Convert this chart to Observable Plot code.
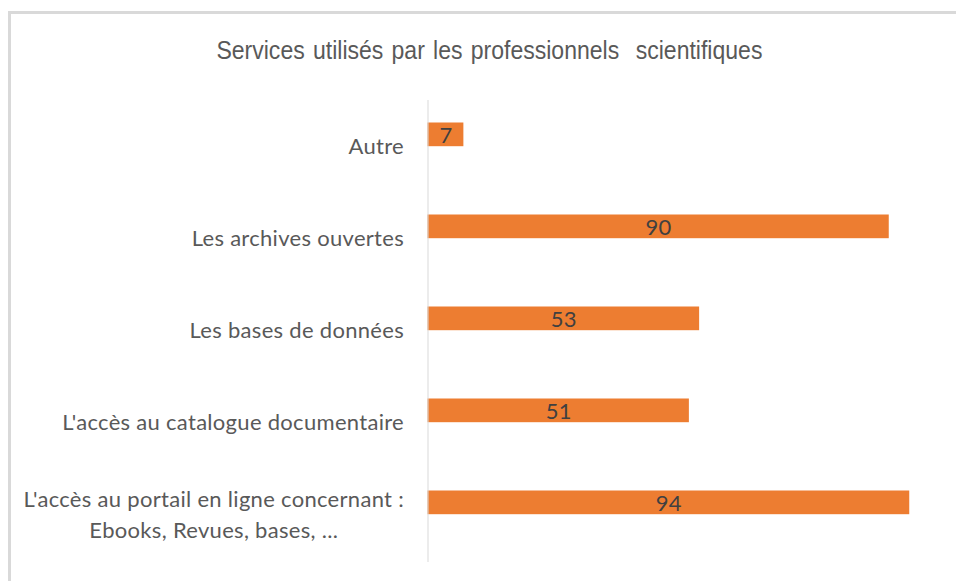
<!DOCTYPE html>
<html>
<head>
<meta charset="utf-8">
<script src="https://cdn.jsdelivr.net/npm/d3@7"></script>
<script src="https://cdn.jsdelivr.net/npm/@observablehq/plot@0.6"></script>
<style>
  html, body { margin: 0; padding: 0; background: #fff; }
  #wrap { position: relative; width: 956px; height: 581px; overflow: hidden; }
  #frame { position: absolute; left: 8px; top: 11px; width: 1000px; height: 700px;
           border-left: 3px solid #d9d9d9; border-top: 3px solid #d9d9d9; box-sizing: border-box; }
  #title { position: absolute; left: 0; width: 978px; top: 36px; text-align: center;
           font-family: "Liberation Sans", Arial, sans-serif; font-size: 25px; color: #595959;
           white-space: pre; line-height: 28px; }
  #title span { display: inline-block; transform-origin: center; word-spacing: 2px; }
  #chart { position: absolute; left: 0; top: 0; }
</style>
</head>
<body>
<div id="wrap">
  <div id="frame"></div>
  <div id="title"><span id="titletext"></span></div>
  <div id="chart"></div>
</div>
<script>
const titleText = "Services utilisés par les professionnels  scientifiques";
const categories = [
  "Autre",
  "Les archives ouvertes",
  "Les bases de données",
  "L'accès au catalogue documentaire",
  "L'accès au portail en ligne concernant :\nEbooks, Revues, bases, ..."
];
const values = [7, 90, 53, 51, 94];

const data = categories.map((c, i) => ({category: c, value: values[i]}));

document.getElementById("titletext").textContent = titleText;

const chart = Plot.plot({
  width: 956,
  height: 581,
  marginTop: 100,
  marginBottom: 19,
  marginLeft: 427.5,
  marginRight: 16,
  style: {fontFamily: "Lato, 'Open Sans', sans-serif", fontSize: "22px", letterSpacing: "0.3px", background: "transparent"},
  x: {domain: [0, 100], axis: null},
  y: {domain: categories, padding: 0, label: null},
  marks: [
    Plot.axisY({tickSize: 0, tickPadding: 24, fill: "#595959", lineHeight: 1.41, dy: -3, label: null}),
    Plot.barX(data, {x: "value", y: "category", fill: "#ED7D31", insetTop: 21.5, insetBottom: 46.8}),
    Plot.ruleX([0], {stroke: "#d9d9d9", strokeWidth: 1}),
    Plot.text(data, {x: d => d.value / 2, y: "category", text: d => String(d.value),
                     dy: -12, fill: "#404040", fontSize: 22})
  ]
});
document.getElementById("chart").appendChild(chart);

// fit the title to the width it has in the original
const ts = document.getElementById("titletext");
const tw = ts.getBoundingClientRect().width;
ts.style.transform = `scaleX(${546 / tw})`;

// center the lines of multi-line tick labels (as in the original)
chart.querySelectorAll('g[aria-label="y-axis tick label"] text').forEach(t => {
  if (t.querySelectorAll("tspan").length > 1) {
    const w = t.getBBox().width;
    t.setAttribute("text-anchor", "middle");
    t.setAttribute("transform", (t.getAttribute("transform") || "") + ` translate(${-w / 2},0)`);
  }
});
</script>
</body>
</html>
